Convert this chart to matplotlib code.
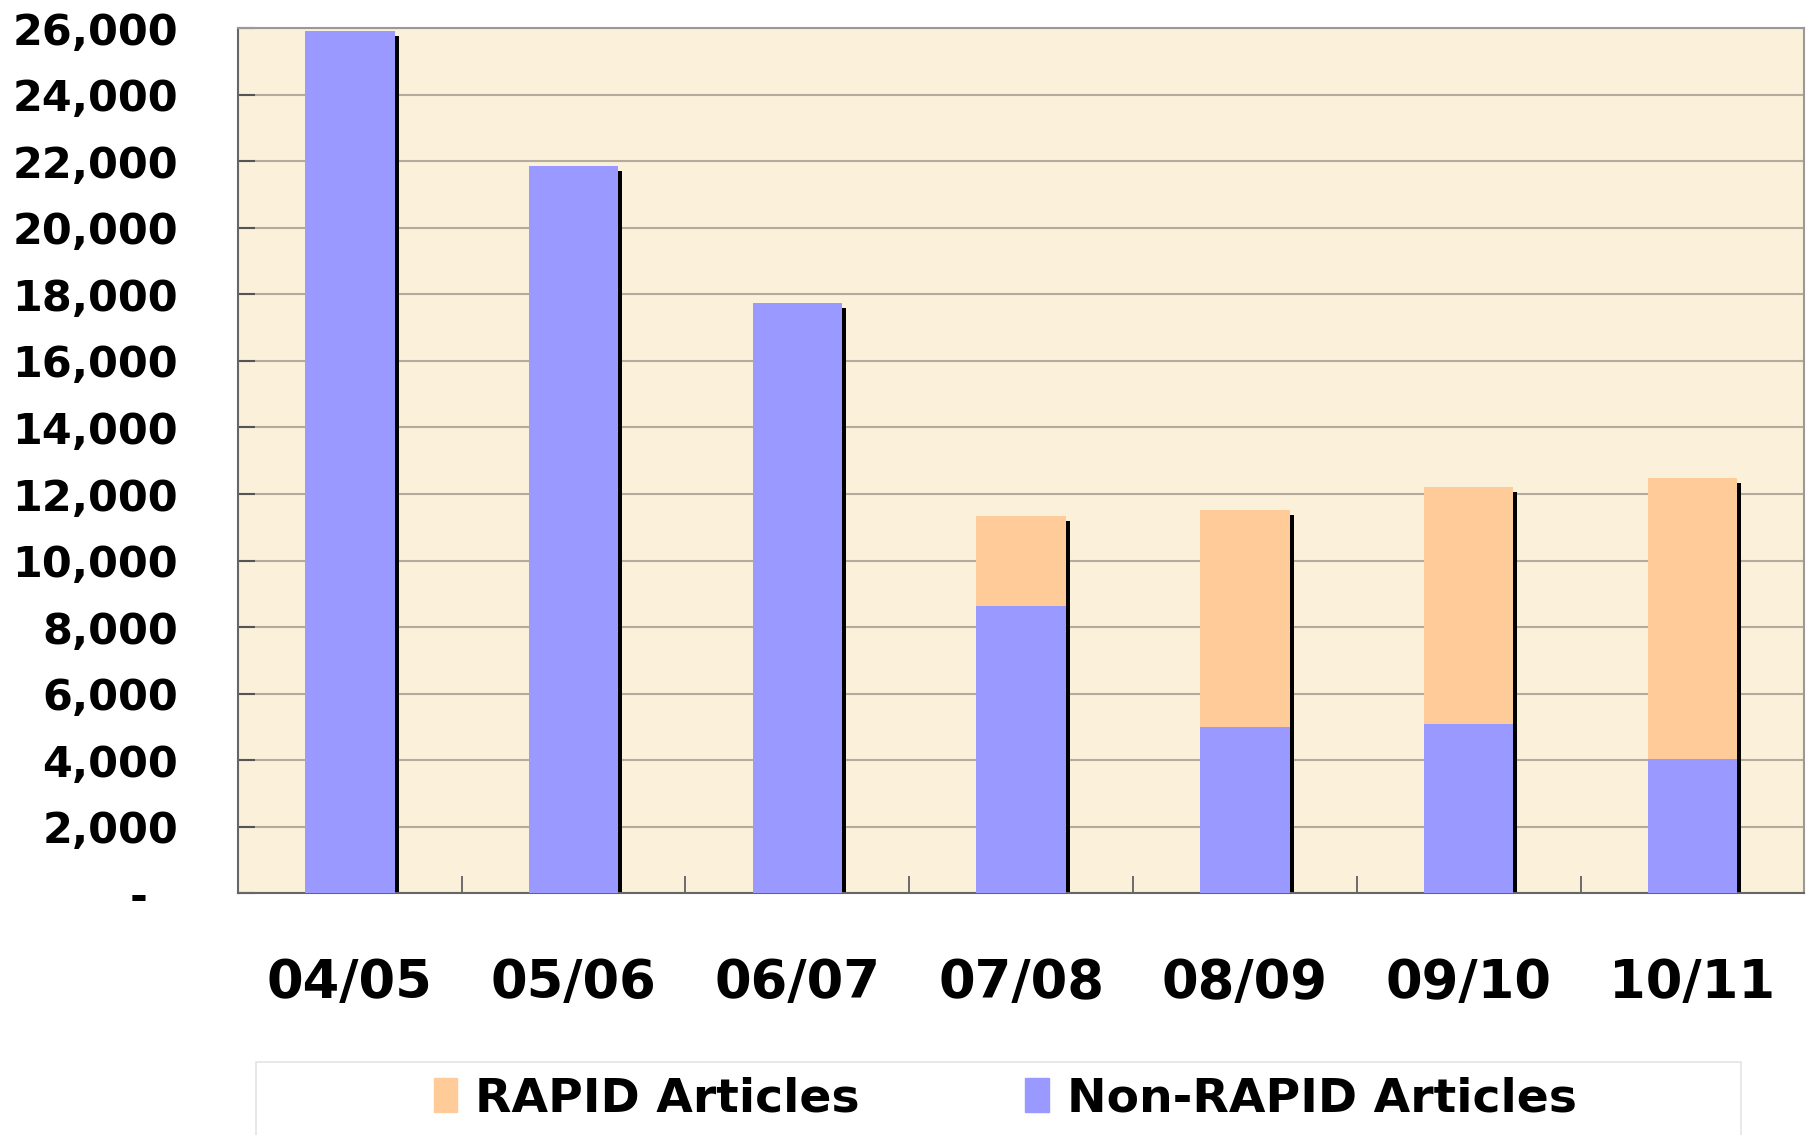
import matplotlib.pyplot as plt
import matplotlib.transforms as mtransforms
from matplotlib.patches import Patch, Rectangle
from matplotlib.ticker import FuncFormatter
import numpy as np

# Dados
anos = ["04/05", "05/06", "06/07", "07/08", "08/09", "09/10", "10/11"]
non_rapid = [25900, 21850, 17750, 8630, 4990, 5090, 4040]
rapid = [0, 0, 0, 2720, 6540, 7110, 8430]

cor_non_rapid = "#9999FF"
cor_rapid = "#FFCC99"
fundo = "#FBF0DA"

fig = plt.figure(figsize=(18.08, 11.35), dpi=100)
ax = fig.add_axes([0.1316, 0.2128, 0.8664, 0.7625])
ax.set_facecolor(fundo)

x = np.arange(len(anos))
largura = 0.40
total = [a + b for a, b in zip(non_rapid, rapid)]

# sombra preta deslocada atras das barras
sombra = ax.bar(x, total, largura, color="black", zorder=2)
desloc = mtransforms.ScaledTranslation(4 / 100, -5 / 100, fig.dpi_scale_trans)
for p in sombra:
    p.set_transform(ax.transData + desloc)

ax.bar(x, non_rapid, largura, color=cor_non_rapid, zorder=3)
ax.bar(x, rapid, largura, bottom=non_rapid, color=cor_rapid, zorder=3)

ax.set_xlim(-0.5, len(anos) - 0.5)
ax.set_ylim(0, 26000)
ax.set_yticks(np.arange(0, 26001, 2000))
ax.yaxis.set_major_formatter(FuncFormatter(lambda v, p: "-  " if v == 0 else f"{int(v):,}"))
ax.grid(axis="y", color="#B3AB9C", linewidth=1.5, zorder=1)
ax.set_axisbelow(True)

ax.set_xticks(x)
ax.set_xticklabels(anos)
ax.set_xticks(np.arange(0.5, len(anos) - 0.5, 1), minor=True)
ax.tick_params(axis="x", which="major", length=0, pad=46, labelsize=38)
ax.tick_params(axis="x", which="minor", direction="in", length=12, width=1.2, color="#555555")
ax.tick_params(axis="y", direction="in", length=12, width=1.5, color="#555555", pad=43, labelsize=31)
for lbl in ax.get_xticklabels() + ax.get_yticklabels():
    lbl.set_fontweight("bold")

for lado in ["left", "bottom"]:
    ax.spines[lado].set_color("#666666")
    ax.spines[lado].set_linewidth(1.5)
for lado in ["top", "right"]:
    ax.spines[lado].set_color("#999999")
    ax.spines[lado].set_linewidth(1.5)

# Legenda
fig.patches.append(Rectangle((256 / 1808, -0.01), (1741 - 256) / 1808, 1 - 1062 / 1135 + 0.01,
                             transform=fig.transFigure, facecolor="white",
                             edgecolor="#E4E4E4", linewidth=1.2))
handles = [Patch(color=cor_rapid, label="RAPID Articles"),
           Patch(color=cor_non_rapid, label="Non-RAPID Articles")]
leg = fig.legend(handles=handles, loc="center", bbox_to_anchor=(0.556, 1 - 1099 / 1135),
                 ncol=2, frameon=False, prop={"size": 34, "weight": "bold"},
                 handlelength=0.5, handleheight=0.7, handletextpad=0.38, columnspacing=3.5)

fig.savefig("out.png", dpi=100)
